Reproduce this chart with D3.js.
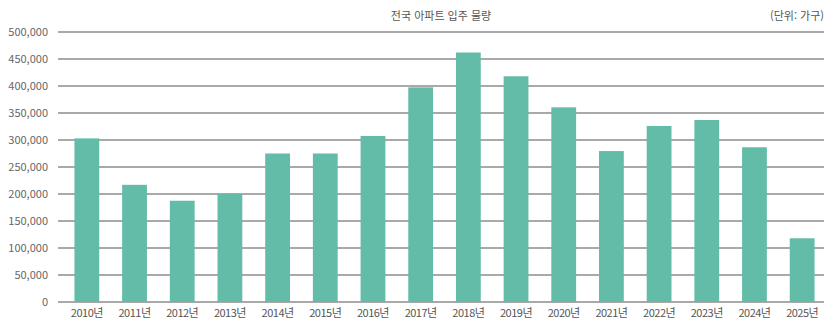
<!DOCTYPE html>
<html lang="ko">
<head>
<meta charset="utf-8">
<script src="https://cdn.jsdelivr.net/npm/d3@7"></script>
<style>
  html, body { margin: 0; padding: 0; background: #fff; }
  svg { display: block; }
  text { font-family: "Noto Sans CJK KR", "Noto Sans", sans-serif; }
</style>
</head>
<body>
<svg id="chart" width="835" height="328"></svg>
<script>
// 연도별 전국 아파트 입주 물량 (가구)
const years = ["2010년","2011년","2012년","2013년","2014년","2015년","2016년","2017년",
               "2018년","2019년","2020년","2021년","2022년","2023년","2024년","2025년"];
const households = [303000, 217000, 187500, 200000, 275000, 275000, 307500, 397500,
                    462000, 418000, 360500, 279500, 326000, 337000, 286500, 118000];
const yTicks = [0, 50000, 100000, 150000, 200000, 250000, 300000, 350000, 400000, 450000, 500000];
const title = "전국 아파트 입주 물량";
const unitLabel = "(단위: 가구)";

const svg = d3.select("#chart");
const gridLeft = 58, gridRight = 824;
const plotTop = 32, plotBottom = 302;

const x = d3.scaleBand().domain(years).range([63, 826]).paddingInner(0.48).paddingOuter(0.24);
const y = d3.scaleLinear().domain([0, 500000]).range([plotBottom, plotTop]);

// horizontal gridlines
svg.append("g").selectAll("line").data(yTicks).join("line")
  .attr("x1", gridLeft).attr("x2", gridRight)
  .attr("y1", d => y(d)).attr("y2", d => y(d))
  .attr("stroke", "#8c8c8c").attr("stroke-width", 1.5);

// y axis labels
const yAxis = d3.axisLeft(y).tickValues(yTicks).tickSize(0).tickPadding(0)
  .tickFormat(d3.format(","));
const gy = svg.append("g").attr("transform", "translate(48,0)").call(yAxis);
gy.select(".domain").remove();
gy.selectAll("text").attr("fill", "#666").attr("font-size", 11).attr("dy", "0.35em");

// bars
svg.append("g").selectAll("rect").data(households).join("rect")
  .attr("x", (d, i) => x(years[i]))
  .attr("width", x.bandwidth())
  .attr("y", d => y(d))
  .attr("height", d => y(0) - y(d))
  .attr("fill", "#63bca8");

// x axis labels
const xAxis = d3.axisBottom(x).tickSize(0).tickPadding(0);
const gx = svg.append("g").attr("transform", `translate(0,${plotBottom + 7})`).call(xAxis);
gx.select(".domain").remove();
gx.selectAll("text").attr("fill", "#555").attr("font-size", 11).attr("dy", "0.71em")
  .attr("letter-spacing", "-0.5px");

// title and unit
svg.append("text").attr("x", 441).attr("y", 20).attr("text-anchor", "middle")
  .attr("font-size", 11).attr("fill", "#555").text(title);
svg.append("text").attr("x", 824).attr("y", 20).attr("text-anchor", "end")
  .attr("font-size", 11).attr("fill", "#555").text(unitLabel);
</script>
</body>
</html>
